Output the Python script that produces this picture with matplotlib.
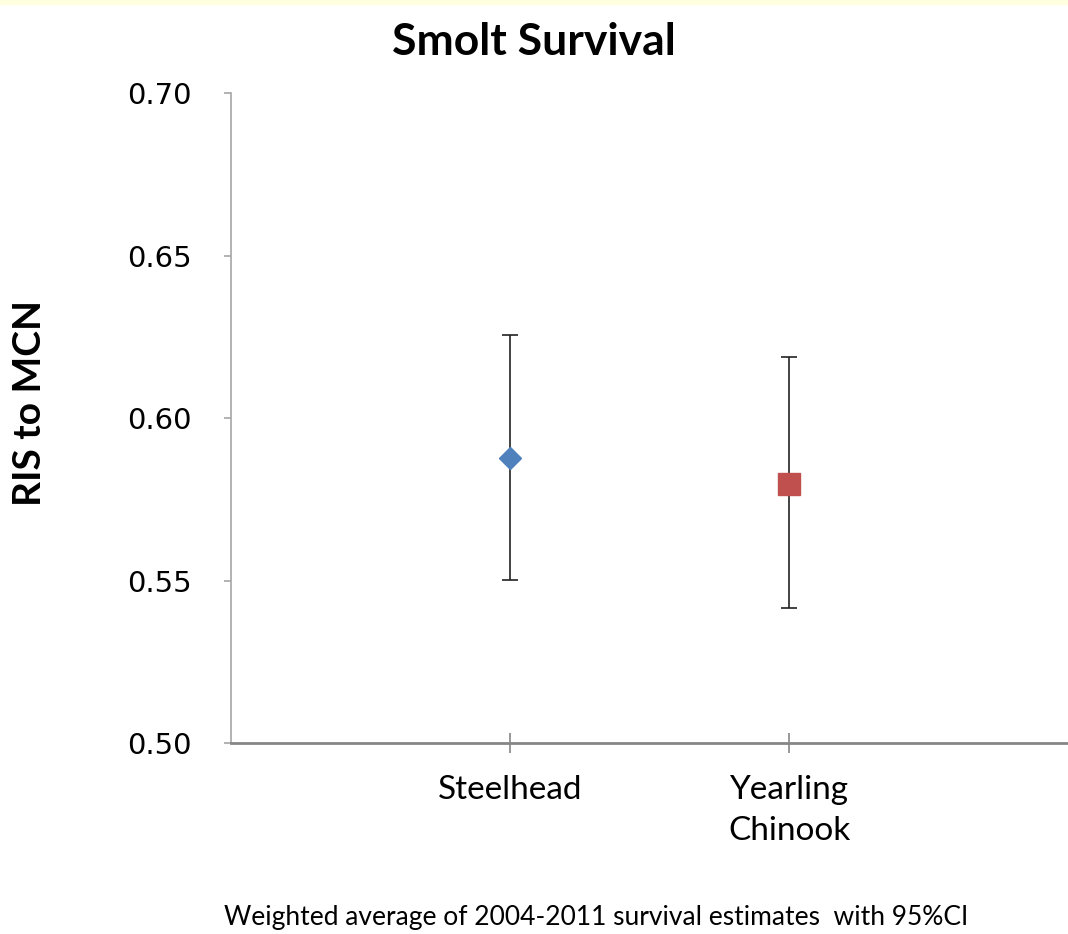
import matplotlib.pyplot as plt
from matplotlib.patches import Rectangle

# data
species = ['Steelhead', 'Yearling\nChinook']
survival = [0.5877, 0.5797]
ci_low = [0.5502, 0.5415]
ci_high = [0.6255, 0.6188]
colours = ['#4F81BD', '#C0504D']
shapes = ['D', 's']
yticks = [0.50, 0.55, 0.60, 0.65, 0.70]

plt.rcParams['font.family'] = ['Lato', 'DejaVu Sans']

fig = plt.figure(figsize=(10.68, 9.34), dpi=100)
fig.patches.append(Rectangle((0, 0.9957), 1, 0.0043, transform=fig.transFigure,
                             color='#FFFFE0', zorder=0))
ax = fig.add_axes([0.2163, 0.2045, 0.7837, 0.6959])

xs = [1, 2]
for i in range(len(species)):
    ax.errorbar(xs[i], survival[i],
                yerr=[[survival[i] - ci_low[i]], [ci_high[i] - survival[i]]],
                fmt='none', ecolor='#222222', elinewidth=1.2, capsize=6, capthick=1.2)
    ax.plot(xs[i], survival[i], marker=shapes[i], color=colours[i],
            markersize=11.7 if shapes[i] == 'D' else 15.5, linestyle='none', zorder=3)

ax.set_xlim(0, 3)
ax.set_ylim(0.50, 0.70)
ax.set_yticks(yticks)
ax.set_yticklabels(['%.2f' % t for t in yticks], fontsize=21, family='DejaVu Sans')
ax.set_xticks(xs)
ax.set_xticklabels(species, fontsize=24, linespacing=1.45)

for s in ['top', 'right']:
    ax.spines[s].set_visible(False)
ax.spines['left'].set_color('#A6A6A6')
ax.spines['left'].set_linewidth(1.2)
ax.spines['bottom'].set_color('#868686')
ax.spines['bottom'].set_linewidth(2)
ax.tick_params(axis='y', direction='out', length=5, width=1.2, color='#A6A6A6', pad=23)
ax.tick_params(axis='x', direction='inout', length=14, width=1.2, color='#868686', pad=16)

fig.text(0.5, 0.955, 'Smolt Survival', ha='center', va='center', fontsize=32, fontweight='bold')
fig.text(0.028, 0.5685, 'RIS to MCN', ha='center', va='center', rotation=90,
         fontsize=28, fontweight='bold')
fig.text(0.558, 0.018, 'Weighted average of 2004-2011 survival estimates  with 95%CI',
         ha='center', va='center', fontsize=19)

fig.savefig('out.png', dpi=100)
